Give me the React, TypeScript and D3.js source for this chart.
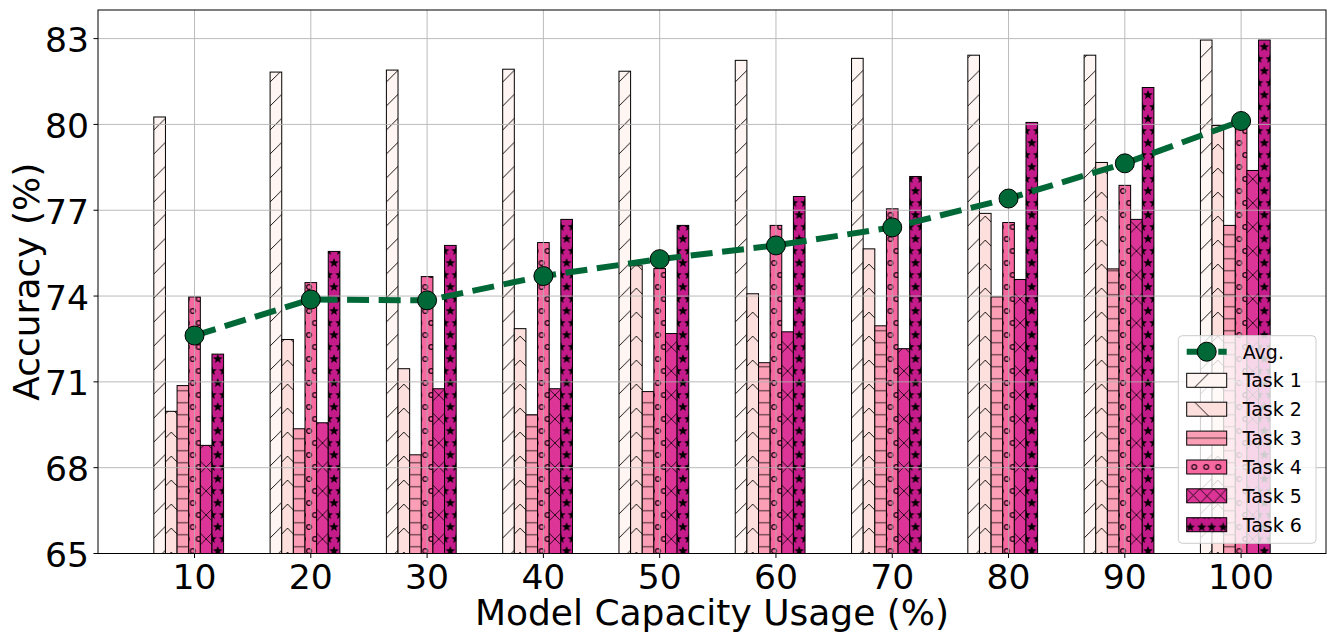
import React from 'react';
import * as d3 from 'd3';

// ---------- data ----------
const capacity = [10, 20, 30, 40, 50, 60, 70, 80, 90, 100];
const taskNames = ['Task 1', 'Task 2', 'Task 3', 'Task 4', 'Task 5', 'Task 6'];
const task1 = [80.26, 81.83, 81.9, 81.93, 81.86, 82.24, 82.31, 82.42, 82.42, 82.95];
const task2 = [69.97, 72.48, 71.46, 72.86, 75.06, 74.08, 75.65, 76.89, 78.67, 79.96];
const task3 = [70.87, 69.36, 68.45, 69.85, 70.66, 71.67, 72.96, 73.97, 74.95, 76.47];
const task4 = [73.97, 74.47, 74.68, 75.87, 74.96, 76.47, 77.05, 76.57, 77.87, 80.0];
const task5 = [68.78, 69.57, 70.76, 70.76, 72.69, 72.75, 72.16, 74.58, 76.68, 78.39];
const task6 = [71.97, 75.56, 75.77, 76.68, 76.47, 77.48, 78.18, 80.07, 81.29, 82.95];
const avgAcc = [72.62, 73.88, 73.85, 74.7, 75.29, 75.77, 76.4, 77.41, 78.64, 80.12];
const yTicks = [65, 68, 71, 74, 77, 80, 83];

const taskColors = ['#fff5f2', '#fde0dd', '#fa9fb5', '#f768a1', '#dd3497', '#c51b8a'];
const avgColor = '#006837';
const FONT = 'DejaVu Sans, sans-serif';

const W = 1336;
const H = 640;
const PL = 98;
const PR = 1326;
const PT = 10;
const PB = 553.5;

function starPath(cx: number, cy: number, R: number, r: number) {
  const pts: string[] = [];
  for (let k = 0; k < 10; k++) {
    const a = -Math.PI / 2 + (k * Math.PI) / 5;
    const rr = k % 2 === 0 ? R : r;
    pts.push(`${(cx + rr * Math.cos(a)).toFixed(2)},${(cy + rr * Math.sin(a)).toFixed(2)}`);
  }
  return 'M' + pts.join('L') + 'Z';
}

const SR = 5;
const Sr = 2.1;

function BarHatch({ t, w }: { t: number; w: number }) {
  const cs = [-24, 0, 24, 48];
  if (t === 0) {
    return (
      <g stroke="#000" strokeWidth={0.9} fill="none">
        {cs.map((c) => (
          <line key={c} x1={-2} y1={c + 2 + 10} x2={w + 2} y2={c - w - 2 + 10} />
        ))}
      </g>
    );
  }
  if (t === 1) {
    return (
      <g stroke="#000" strokeWidth={0.9} fill="none">
        {cs.map((c) => (
          <polyline key={c} points={`${-1},${c + 7} ${w / 2},${c + 7 - w / 2 - 1} ${w + 1},${c + 7}`} />
        ))}
      </g>
    );
  }
  if (t === 2) {
    return (
      <g stroke="#85525f" strokeWidth={1.6}>
        <line x1={-1} x2={w + 1} y1={6.7} y2={6.7} />
        <line x1={-1} x2={w + 1} y1={18.7} y2={18.7} />
      </g>
    );
  }
  if (t === 3) {
    return (
      <g stroke="#2a0a18" strokeWidth={1.3} fill="none">
        <circle cx={4} cy={23} r={2.4} />
        <circle cx={4} cy={-1} r={2.4} />
        <circle cx={10} cy={11} r={2.4} />
        <circle cx={-2} cy={11} r={2.4} />
      </g>
    );
  }
  if (t === 4) {
    return (
      <g stroke="#000" strokeWidth={0.8} fill="none">
        {cs.map((c) => (
          <g key={c}>
            <line x1={-2} y1={c + w / 2 + 2 + 11} x2={w + 2} y2={c - w / 2 - 2 + 11} />
            <line x1={-2} y1={c - w / 2 - 2 + 11} x2={w + 2} y2={c + w / 2 + 2 + 11} />
          </g>
        ))}
      </g>
    );
  }
  return (
    <g fill="#000">
      <path d={starPath(w / 2, 23, SR, Sr)} />
      <path d={starPath(w / 2, -1, SR, Sr)} />
      <path d={starPath(0, 11, SR, Sr)} />
      <path d={starPath(w, 11, SR, Sr)} />
    </g>
  );
}

function LegendHatch({ t }: { t: number }) {
  if (t === 0) return <line x1={8} y1={14} x2={22} y2={0} stroke="#000" strokeWidth={0.9} />;
  if (t === 1) return <line x1={8} y1={0} x2={22} y2={14} stroke="#000" strokeWidth={0.9} />;
  if (t === 2) return <line x1={0} y1={7} x2={40} y2={7} stroke="#85525f" strokeWidth={1.6} />;
  if (t === 3)
    return (
      <g stroke="#2a0a18" strokeWidth={1.3} fill="none">
        {[7.5, 19.5, 31.5].map((cx) => (
          <circle key={cx} cx={cx} cy={7} r={2.4} />
        ))}
      </g>
    );
  if (t === 4)
    return (
      <g stroke="#000" strokeWidth={0.8} fill="none">
        <polyline points="0,0 14,14 27,0 40,13" />
        <polyline points="0,13 13,0 27,14 40,0" />
      </g>
    );
  return (
    <g fill="#000">
      {[3.5, 15, 25, 36.5].map((cx) => (
        <path key={cx} d={starPath(cx, 9.5, SR, Sr)} />
      ))}
      {[9, 20, 31].map((cx) => (
        <path key={'t' + cx} d={starPath(cx, -2.5, SR, Sr)} />
      ))}
    </g>
  );
}

export default function App() {
  const x = d3.scaleLinear().domain([1.7, 107.3]).range([PL, PR]);
  const y = d3.scaleLinear().domain([65, 84]).range([PB, PT]);
  const bw = x(1) - x(0);
  const series = [task1, task2, task3, task4, task5, task6];
  const line = d3
    .line<number>()
    .x((_, i) => x(capacity[i]))
    .y((d) => y(d));

  const legX = 1186.7;
  const legRows = [351.7, 380.3, 409.2, 438.1, 467, 495.8, 524.7];

  return (
    <svg
      width={W}
      height={H}
      style={{ position: 'absolute', left: 0, top: 0, background: '#fff' }}
      fontFamily={FONT}
    >
      <defs>
        {series.map((_, t) => (
          <pattern
            key={t}
            id={`hatch${t}`}
            patternUnits="userSpaceOnUse"
            x={x(capacity[0] + t - 3.5)}
            y={0}
            width={bw}
            height={24}
          >
            <BarHatch t={t} w={bw} />
          </pattern>
        ))}
        {series.map((_, t) => (
          <pattern
            key={'l' + t}
            id={`lhatch${t}`}
            patternUnits="userSpaceOnUse"
            x={legX}
            y={legRows[t + 1] - 7}
            width={40}
            height={14}
          >
            <LegendHatch t={t} />
          </pattern>
        ))}
        <clipPath id="plotClip">
          <rect x={PL} y={PT} width={PR - PL} height={PB - PT} />
        </clipPath>
      </defs>

      {/* bars */}
      <g clipPath="url(#plotClip)">
        {series.map((vals, t) => (
          <g key={t}>
            {vals.map((v, i) => {
              const bx = x(capacity[i] + t - 3.5);
              const by = y(v);
              const bh = y(65) - by;
              return (
                <g key={i}>
                  <rect x={bx} y={by} width={bw} height={bh} fill={taskColors[t]} />
                  <rect x={bx} y={by} width={bw} height={bh} fill={`url(#hatch${t})`} />
                  <rect x={bx} y={by} width={bw} height={bh} fill="none" stroke="#000" strokeWidth={1} />
                </g>
              );
            })}
          </g>
        ))}
      </g>

      {/* grid (above bars, below line) */}
      <g stroke="#b0b0b0" strokeWidth={1} opacity={0.85}>
        {capacity.map((c) => (
          <line key={c} x1={x(c)} x2={x(c)} y1={PT} y2={PB} />
        ))}
        {yTicks.map((v) => (
          <line key={v} x1={PL} x2={PR} y1={y(v)} y2={y(v)} />
        ))}
      </g>

      {/* avg line */}
      <path
        d={line(avgAcc) || ''}
        fill="none"
        stroke={avgColor}
        strokeWidth={6}
        strokeDasharray="22 9.6"
      />
      {avgAcc.map((v, i) => (
        <circle key={i} cx={x(capacity[i])} cy={y(v)} r={9.5} fill={avgColor} stroke="#000" strokeWidth={1} />
      ))}

      {/* spines */}
      <rect x={PL} y={PT} width={PR - PL} height={PB - PT} fill="none" stroke="#000" strokeWidth={1} />

      {/* x ticks */}
      {capacity.map((c) => (
        <g key={c}>
          <line x1={x(c)} x2={x(c)} y1={PB} y2={PB + 4.5} stroke="#000" strokeWidth={1} />
          <text x={x(c)} y={589.3} textAnchor="middle" fontSize={34.6} fill="#000">
            {c}
          </text>
        </g>
      ))}
      {/* y ticks */}
      {yTicks.map((v) => (
        <g key={v}>
          <line x1={PL - 4.5} x2={PL} y1={y(v)} y2={y(v)} stroke="#000" strokeWidth={1} />
          <text x={89} y={y(v) + 13.5} textAnchor="end" fontSize={34.6} fill="#000">
            {v}
          </text>
        </g>
      ))}

      {/* axis labels */}
      <text x={(PL + PR) / 2} y={624.5} textAnchor="middle" fontSize={36} fill="#000">
        Model Capacity Usage (%)
      </text>
      <text
        transform={`translate(38.5, ${(PT + PB) / 2}) rotate(-90)`}
        textAnchor="middle"
        fontSize={36}
        fill="#000"
      >
        Accuracy (%)
      </text>

      {/* legend */}
      <g>
        <rect x={1178.3} y={335.7} width={137.7} height={207.6} rx={4} fill="#fff" fillOpacity={0.8} stroke="#cccccc" strokeWidth={1} />
        <line
          x1={legX}
          x2={legX + 40}
          y1={legRows[0]}
          y2={legRows[0]}
          stroke={avgColor}
          strokeWidth={6}
          strokeDasharray="22 9.6"
        />
        <circle cx={legX + 20} cy={legRows[0]} r={9.5} fill={avgColor} stroke="#000" strokeWidth={1} />
        <text x={1242.7} y={legRows[0] + 6.8} fontSize={19} fill="#000">
          Avg.
        </text>
        {taskNames.map((name, t) => (
          <g key={name}>
            <rect x={legX} y={legRows[t + 1] - 7} width={40} height={14} fill={taskColors[t]} />
            <rect x={legX} y={legRows[t + 1] - 7} width={40} height={14} fill={`url(#lhatch${t})`} />
            <rect x={legX} y={legRows[t + 1] - 7} width={40} height={14} fill="none" stroke="#000" strokeWidth={1} />
            <text x={1242.7} y={legRows[t + 1] + 6.8} fontSize={19} fill="#000">
              {name}
            </text>
          </g>
        ))}
      </g>
    </svg>
  );
}
